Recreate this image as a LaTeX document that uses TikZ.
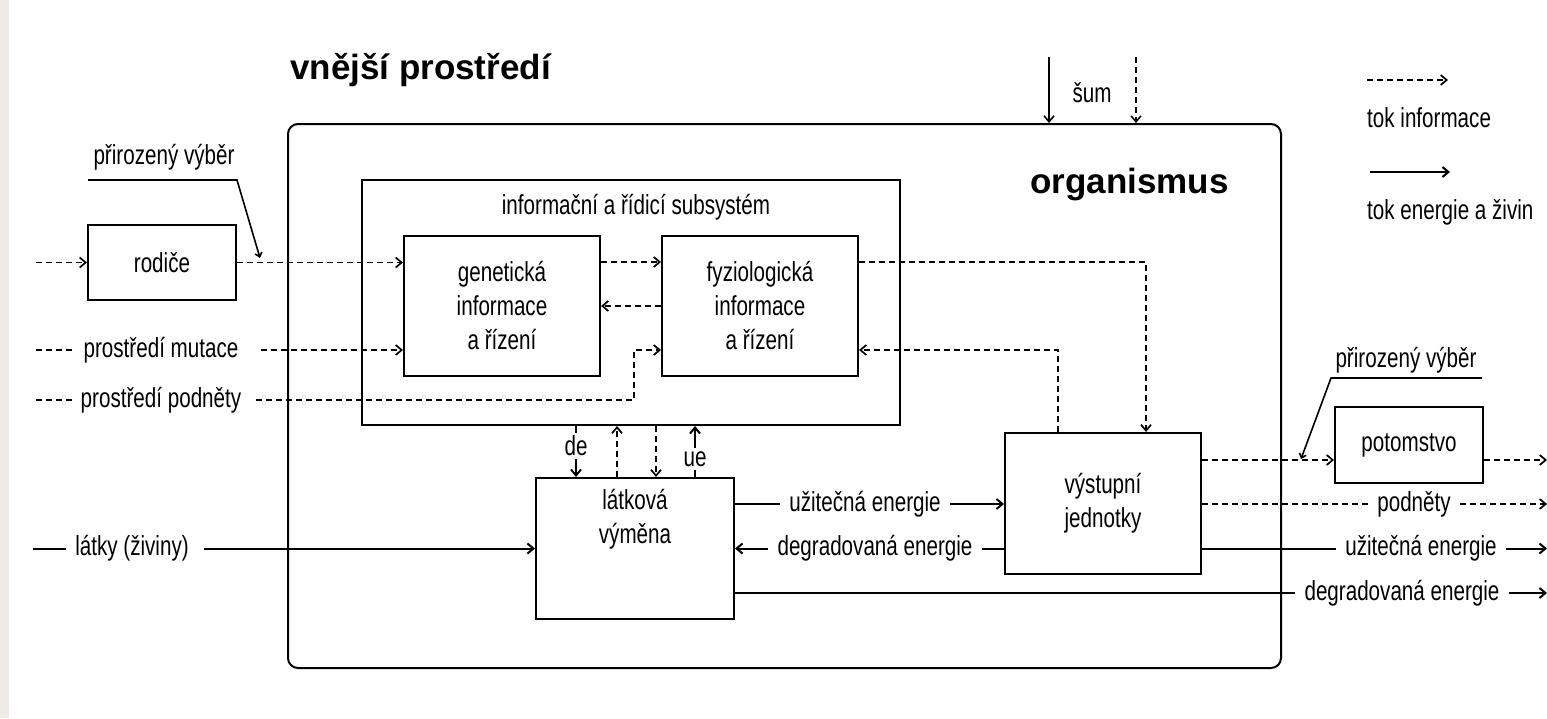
\documentclass[tikz,border=0pt]{standalone}
\usepackage{fontspec}
\setmainfont{Liberation Sans}
\newfontfamily\pixfont[FakeStretch=0.75]{Liberation Sans}
\usetikzlibrary{arrows.meta}
\definecolor{stripc}{RGB}{238,235,229}
\begin{document}
\begin{tikzpicture}[x=1pt,y=-1pt,
  every node/.style={font=\pixfont\fontsize{27.5}{34}\selectfont, inner sep=0pt},
  box/.style={draw, line width=2pt, rectangle, align=center},
  lbl/.style={inner xsep=9pt},
  ttl/.style={font=\bfseries\fontsize{35}{40}\selectfont, anchor=west},
  ln/.style={line width=2pt},
  dsh/.style={line width=1.7pt, dash pattern=on 6pt off 4pt},
  tip/.style={-{Straight Barb[length=6pt,width=10pt]}},
  stip/.style={-{Straight Barb[length=4pt,width=7pt]}}
]
\useasboundingbox (0,0) rectangle (1547,718);
\fill[stripc] (0,0) rectangle (9,718);

% titles
\node[ttl] (ext) at (290,70) {vnější prostředí};
\node[ttl] (orgt) at (1030,185) {organismus};

% boxes
\node[box, rounded corners=10pt, minimum width=993pt, minimum height=544pt] (org) at (784.5,396) {};
\node[box, minimum width=538pt, minimum height=245pt] (info) at (631,302.5) {};
\node (infot) at (636,207) {informační a řídicí subsystém};
\node[box, minimum width=196pt, minimum height=140pt] (gen) at (502,306) {genetická\\informace\\a řízení};
\node[box, minimum width=196pt, minimum height=140pt] (fyz) at (760,306) {fyziologická\\informace\\a řízení};
\node[box, minimum width=148pt, minimum height=75pt] (rod) at (162,262.5) {rodiče};
\node[box, minimum width=198pt, minimum height=141pt] (lat) at (635,548.5) {};
\node (latt) at (635,519) [align=center] {látková\\výměna};
\node[box, minimum width=196pt, minimum height=141pt] (vys) at (1103,503.5) {výstupní\\jednotky};
\node[box, minimum width=148pt, minimum height=76pt] (pot) at (1409,445) {potomstvo};

% left inputs
\coordinate (rodin) at (36,262.5);
\draw[dsh,tip] (rodin) -- (rod.west);
\draw[dsh,tip] (rod.east) -- (rod.east -| gen.west);

\coordinate (mutin) at (36,350);
\node[lbl] (mut) at (161,350) {prostředí mutace};
\draw[dsh] (mutin) -- (mut.west);
\draw[dsh,tip] ([xshift=13pt]mut.east) -- (mut.east -| gen.west);

\coordinate (podin) at (36,400);
\node[lbl] (pod) at (161,400) {prostředí podněty};
\coordinate (podk) at (634,400);
\draw[dsh] (podin) -- (pod.west);
\draw[dsh,tip] ([xshift=6pt]pod.east) -- (podk) |- ([yshift=-44pt]fyz.west);

% selection left
\node (pv) at (164,157) {přirozený výběr};
\coordinate (pv1) at (88,180);
\coordinate (pv2) at (237,180);
\coordinate (pv3) at (260,258);
\draw[line width=1.6pt, stip] (pv1) -- (pv2) -- (pv3);

% between gen and fyz
\draw[dsh,tip] ([yshift=44pt]gen.east) -- ([yshift=44pt]fyz.west);
\draw[dsh,tip] (fyz.west) -- (gen.east);

% fyz <-> vys
\draw[dsh,tip] ([yshift=44pt]fyz.east) -| ([xshift=43pt]vys.north);
\draw[dsh,tip] ([xshift=-45pt]vys.north) |- ([yshift=-44pt]fyz.east);

% info <-> lat
\node[inner ysep=3pt] (de) at (576,446) {de};
\draw[ln] (de.north |- info.south) -- (de.north);
\draw[ln,tip] (de.south) -- (de.south |- lat.north);
\draw[dsh,tip] ([xshift=-18pt]lat.north) -- ([xshift=-18pt]lat.north |- info.south);
\draw[dsh,tip] ([xshift=21pt]lat.north |- info.south) -- ([xshift=21pt]lat.north);
\node[inner ysep=3pt] (ue) at (695,459) {ue};
\draw[ln] (ue.south |- lat.north) -- (ue.south);
\draw[ln,tip] (ue.north) -- (ue.north |- info.south);

% nutrients
\coordinate (latin) at (33,548.5);
\node[lbl] (latky) at (132,548.5) {látky (živiny)};
\draw[ln] (latin) -- (latky.west);
\draw[ln,tip] ([xshift=6pt]latky.east) -- (lat.west);

% lat <-> vys
\node[lbl] (ue1) at (865,504) {užitečná energie};
\draw[ln] ([yshift=44.5pt]lat.east) -- (ue1.west);
\draw[ln,tip] (ue1.east) -- (ue1.east -| vys.west);
\node[lbl] (de1) at (875,548.5) {degradovaná energie};
\draw[ln] (de1.east -| vys.west) -- (de1.east);
\draw[ln,tip] (de1.west) -- (lat.east);

% outputs
\coordinate (out1) at (1547,460);
\coordinate (out2) at (1547,504);
\coordinate (out3) at (1547,548.5);
\coordinate (out4) at (1547,593);
\draw[dsh,tip] ([yshift=43.5pt]vys.east) -- ([yshift=43.5pt]vys.east -| pot.west);
\draw[dsh,tip] (out1 -| pot.east) -- (out1);
\node[lbl] (pod2) at (1414,504) {podněty};
\draw[dsh] (vys.east |- pod2) -- (pod2.west);
\draw[dsh,tip] (pod2.east) -- (out2);
\node[lbl] (ue2) at (1421,548.5) {užitečná energie};
\draw[ln] (vys.east |- ue2) -- (ue2.west);
\draw[ln,tip] (ue2.east) -- (out3);
\node[lbl] (de2) at (1402,593) {degradovaná energie};
\draw[ln] ([yshift=-44.5pt]lat.east) -- (de2.west);
\draw[ln,tip] (de2.east) -- (out4);

% selection right
\node (pvr) at (1406,360) {přirozený výběr};
\coordinate (pr1) at (1482,378);
\coordinate (pr2) at (1331,378);
\coordinate (pr3) at (1301,459);
\draw[line width=1.6pt, stip] (pr1) -- (pr2) -- (pr3);

% noise
\node (sum) at (1092,93) {šum};
\coordinate (s1) at (1049,57);
\coordinate (s2) at (1136,57);
\draw[line width=1.6pt,tip] (s1) -- (s1 |- org.north);
\draw[line width=1.5pt, dash pattern=on 6pt off 4pt,tip] (s2) -- (s2 |- org.north);

% legend
\coordinate (l1) at (1367,80);
\coordinate (l2) at (1448,80);
\coordinate (l3) at (1370,172);
\coordinate (l4) at (1450,172);
\draw[dsh,tip] (l1) -- (l2);
\node[anchor=west] (lt1) at (1367,118) {tok informace};
\draw[ln,tip] (l3) -- (l4);
\node[anchor=west] (lt2) at (1367,212) {tok energie a živin};
\end{tikzpicture}
\end{document}
